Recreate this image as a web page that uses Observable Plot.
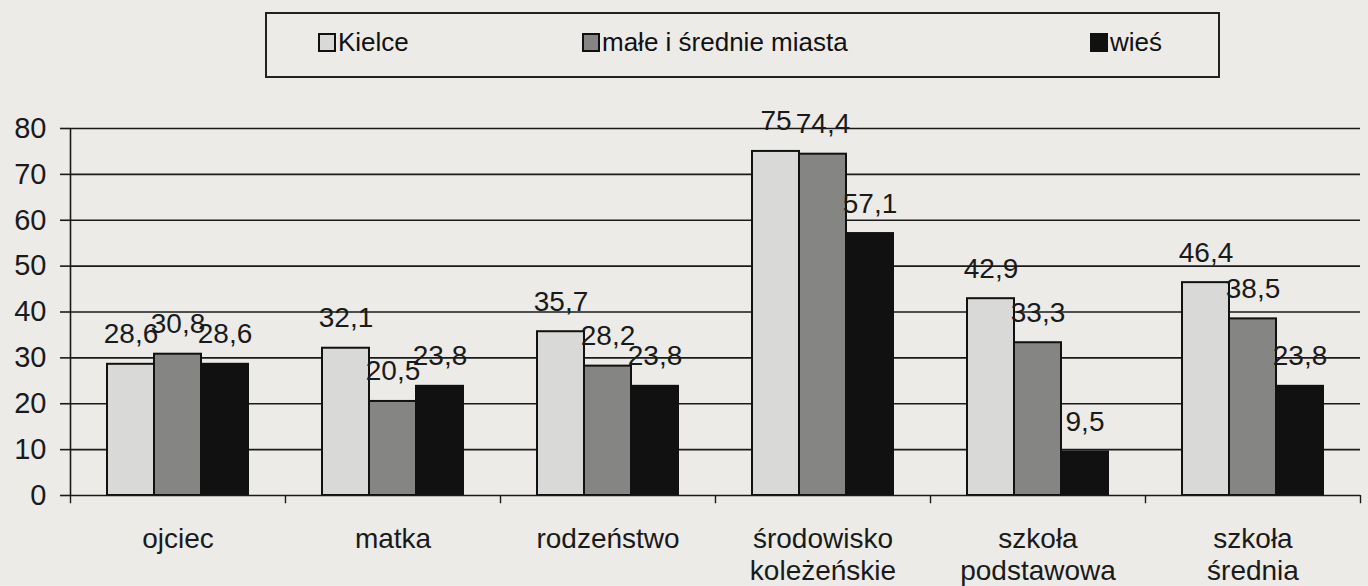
<!DOCTYPE html>
<html>
<head>
<meta charset="utf-8">
<script src="https://cdn.jsdelivr.net/npm/d3@7"></script>
<script src="https://cdn.jsdelivr.net/npm/@observablehq/plot@0.6"></script>
<style>
  html, body { margin: 0; padding: 0; background: #ecebe8; width: 1368px; height: 586px; overflow: hidden; font-family: "Liberation Sans", Arial, sans-serif; }
  #legend { position: relative; height: 88px; }
  #legend .box { position: absolute; left: 265px; top: 12px; width: 955px; height: 66px; border: 2px solid #222; box-sizing: border-box; }
  #legend .item { position: absolute; top: 28px; font-size: 26px; color: #111; line-height: 28px; display: flex; align-items: center; }
  #legend .sw { display: inline-block; width: 14px; height: 15px; border: 2px solid #111; margin-right: 2px; }
  svg { display: block; background: transparent; }
</style>
</head>
<body>
<div id="legend"></div>
<div id="chart"></div>
<script>
const categories = ["ojciec", "matka", "rodzeństwo", "środowisko\nkoleżeńskie", "szkoła\npodstawowa", "szkoła\nśrednia"];
const seriesNames = ["Kielce", "małe i średnie miasta", "wieś"];
const kielce = [28.6, 32.1, 35.7, 75, 42.9, 46.4];
const miasta = [30.8, 20.5, 28.2, 74.4, 33.3, 38.5];
const wies = [28.6, 23.8, 23.8, 57.1, 9.5, 23.8];
const yTicks = [0, 10, 20, 30, 40, 50, 60, 70, 80];

const fills = ["#d9d9d7", "#858583", "#111111"];
const legendLeft = [318, 582, 1090];
const seriesValues = [kielce, miasta, wies];
const barW = 47;
const offsets = [-barW, 0, barW];

const legend = document.getElementById("legend");
const box = document.createElement("div"); box.className = "box"; legend.appendChild(box);
seriesNames.forEach((n, i) => {
  const it = document.createElement("div");
  it.className = "item";
  it.style.left = legendLeft[i] + "px";
  const sw = document.createElement("span"); sw.className = "sw"; sw.style.background = fills[i];
  it.appendChild(sw);
  it.appendChild(document.createTextNode(n));
  legend.appendChild(it);
});

const marks = [];
// gridlines
marks.push(Plot.ruleY(yTicks.filter(d => d > 0), {stroke: "#1a1a1a", strokeWidth: 1.6}));
// bars & labels
seriesValues.forEach((vals, i) => {
  const data = categories.map((c, j) => ({category: c, value: vals[j]}));
  const inset = (215 - barW) / 2;
  marks.push(Plot.barY(data, {x: "category", y: "value", dx: offsets[i], insetLeft: inset, insetRight: inset, fill: fills[i], stroke: "#111", strokeWidth: 2}));
  marks.push(Plot.text(data, {x: "category", y: "value", dx: offsets[i], text: d => String(d.value).replace(".", ","), lineAnchor: "middle", dy: -30, fontSize: 28, fill: "#1a1a1a"}));
});
// axes lines
marks.push(Plot.ruleY([0], {stroke: "#1a1a1a", strokeWidth: 1.6}));
marks.push(Plot.ruleX([categories[0]], {x: d => d, dx: -107.5, y1: 0, y2: 80, stroke: "#1a1a1a", strokeWidth: 1.6}));
// x tick marks at category boundaries
marks.push(Plot.ruleX(categories, {x: d => d, dx: 107.5, y1: 0, y2: -1.8, stroke: "#1a1a1a", strokeWidth: 1.4}));
marks.push(Plot.ruleX([categories[0]], {x: d => d, dx: -107.5, y1: 0, y2: -1.8, stroke: "#1a1a1a", strokeWidth: 1.4}));
// category labels (two lines)
marks.push(Plot.text(categories, {x: d => d, y: 0, text: d => d.split("\n")[0], lineAnchor: "middle", dy: 44, fontSize: 28, fill: "#1a1a1a"}));
marks.push(Plot.text(categories.filter(d => d.includes("\n")), {x: d => d, y: 0, text: d => d.split("\n")[1], lineAnchor: "middle", dy: 76, fontSize: 28, fill: "#1a1a1a"}));
// y axis
marks.push(Plot.axisY({ticks: yTicks, tickSize: 10, tickPadding: 14, fontSize: 29, stroke: "#1a1a1a", strokeWidth: 1.6, label: null, color: "#1a1a1a"}));

const chart = Plot.plot({
  width: 1368,
  height: 498,
  marginLeft: 70,
  marginRight: 8,
  marginTop: 40,
  marginBottom: 91,
  style: {fontFamily: "'Liberation Sans', Arial, sans-serif", background: "transparent", color: "#1a1a1a"},
  x: {domain: categories, padding: 0, axis: null},
  y: {domain: [0, 80]},
  marks
});
document.getElementById("chart").appendChild(chart);
</script>
</body>
</html>
